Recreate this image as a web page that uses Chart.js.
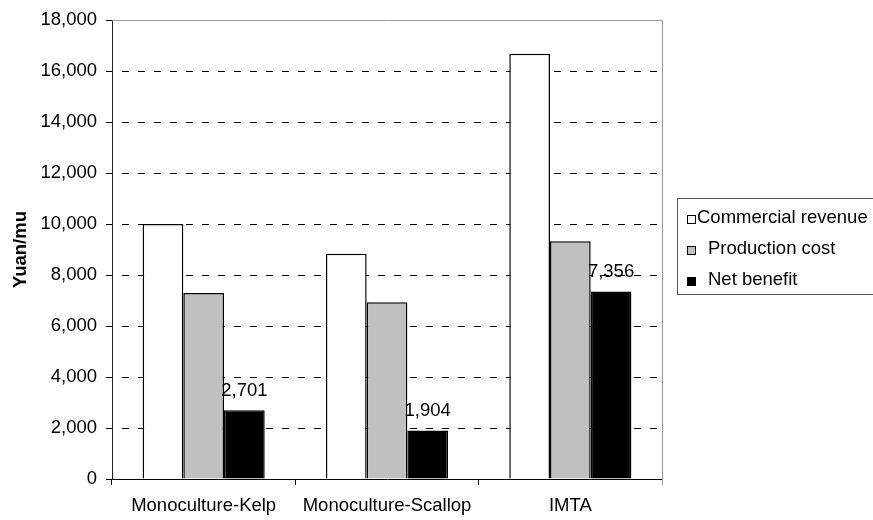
<!DOCTYPE html>
<html lang="en">
<head>
  <meta charset="UTF-8">
  <title>Commercial revenue, production cost and net benefit</title>
  <script src="https://cdn.jsdelivr.net/npm/chart.js"></script>
  <style>
    body { margin: 0; background: #fff; }
    #wrap { width: 873px; height: 520px; }
  </style>
</head>
<body>
  <div id="wrap"><canvas id="chart" width="873" height="520"></canvas></div>

  <script>
    // values
    const categories = ["Monoculture-Kelp", "Monoculture-Scallop", "IMTA"];
    const seriesNames = ["Commercial revenue", "Production cost", "Net benefit"];
    const revenue = [10000, 8840, 16680];
    const cost = [7299, 6936, 9324];
    const netBenefit = [2701, 1904, 7356];
    const yTicks = [0, 2000, 4000, 6000, 8000, 10000, 12000, 14000, 16000, 18000];

    const FONT = "'Liberation Sans', Arial, sans-serif";
    const SIZE = 18.5;
    const fill = ["#ffffff", "#c0c0c0", "#000000"];

    function fmt(v) {
      return v.toLocaleString("en-US");
    }

    // value labels over the net benefit bars
    const netLabels = {
      id: "netLabels",
      afterDatasetsDraw(chart) {
        const ctx = chart.ctx;
        const meta = chart.getDatasetMeta(2);
        ctx.save();
        ctx.font = SIZE + "px " + FONT;
        ctx.fillStyle = "#000";
        ctx.textAlign = "center";
        ctx.textBaseline = "alphabetic";
        meta.data.forEach(function (bar, i) {
          ctx.fillText(fmt(netBenefit[i]), bar.x, bar.y - 14);
        });
        ctx.restore();
      }
    };

    // grey frame on top / right of the plot area
    const frame = {
      id: "frame",
      afterDraw(chart) {
        const a = chart.chartArea;
        const ctx = chart.ctx;
        ctx.save();
        ctx.strokeStyle = "#999";
        ctx.lineWidth = 1;
        ctx.beginPath();
        ctx.moveTo(a.left, a.top + 0.5);
        ctx.lineTo(a.right + 0.5, a.top + 0.5);
        ctx.lineTo(a.right + 0.5, a.bottom + 6);
        ctx.stroke();
        ctx.restore();
      }
    };

    // boxed legend, cut by the right edge like the original
    const boxLegend = {
      id: "boxLegend",
      afterDraw(chart) {
        const ctx = chart.ctx;
        const x0 = 677, y0 = 198;
        ctx.save();
        ctx.strokeStyle = "#555";
        ctx.lineWidth = 1;
        ctx.strokeRect(x0 + 0.5, y0 + 0.5, 220, 96);
        ctx.font = SIZE + "px " + FONT;
        ctx.textBaseline = "alphabetic";
        chart.data.datasets.forEach(function (ds, i) {
          const base = 223 + i * 31;
          ctx.fillStyle = ds.backgroundColor;
          ctx.fillRect(687, base - 8, 8, 8);
          ctx.strokeStyle = "#000";
          ctx.strokeRect(687.5, base - 7.5, 8, 8);
          ctx.fillStyle = "#000";
          ctx.fillText(ds.label, i === 0 ? 697 : 708, base);
        });
        ctx.restore();
      }
    };

    const ctx = document.getElementById("chart").getContext("2d");
    new Chart(ctx, {
      type: "bar",
      data: {
        labels: categories,
        datasets: [
          { label: seriesNames[0], data: revenue, backgroundColor: fill[0] },
          { label: seriesNames[1], data: cost, backgroundColor: fill[1] },
          { label: seriesNames[2], data: netBenefit, backgroundColor: fill[2] }
        ].map(function (d) {
          return Object.assign(d, {
            borderColor: "#000",
            borderWidth: 1.5,
            categoryPercentage: 0.666,
            barPercentage: 1
          });
        })
      },
      options: {
        responsive: false,
        animation: false,
        layout: { padding: { top: 19, right: 211, left: 0, bottom: 0 } },
        plugins: {
          legend: { display: false },
          tooltip: { enabled: false }
        },
        scales: {
          x: {
            afterFit(scale) { scale.height = 41; },
            grid: {
              offset: true,
              drawOnChartArea: false,
              drawTicks: true,
              tickLength: 6,
              color: "#000"
            },
            border: { color: "#000", width: 1 },
            ticks: {
              color: "#000",
              padding: 10,
              font: { family: FONT, size: SIZE }
            }
          },
          y: {
            min: 0,
            max: 18000,
            afterFit(scale) { scale.width = 112; },
            afterBuildTicks(scale) {
              scale.ticks = yTicks.map(function (v) { return { value: v }; });
            },
            grid: {
              color: function (c) {
                return c.tick && (c.tick.value === 0 || c.tick.value === 18000) ? "rgba(0,0,0,0)" : "#000";
              },
              tickColor: "#000",
              tickLength: 6,
              lineWidth: 1
            },
            border: { color: "#222", width: 1, dash: [7, 9], dashOffset: 7 },
            ticks: {
              color: "#000",
              padding: 9,
              font: { family: FONT, size: SIZE },
              callback: function (v) { return fmt(v); }
            },
            title: {
              display: true,
              text: "Yuan/mu",
              color: "#000",
              padding: { top: 10, bottom: 0 },
              font: { family: FONT, size: SIZE, weight: "bold" }
            }
          }
        }
      },
      plugins: [netLabels, frame, boxLegend]
    });
  </script>
</body>
</html>
